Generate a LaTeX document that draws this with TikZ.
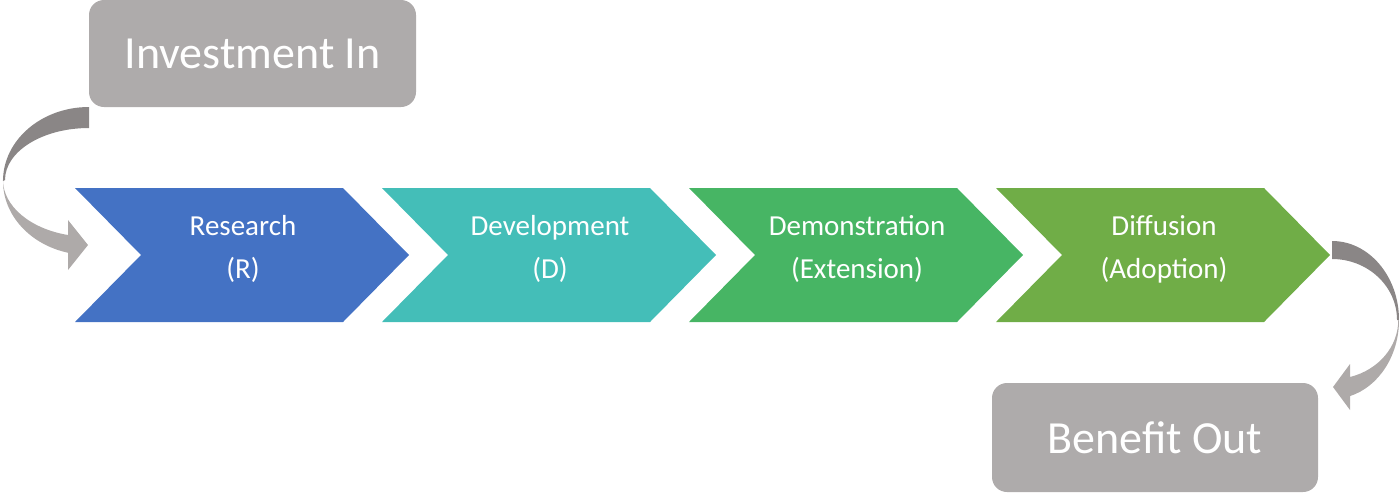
\documentclass[tikz,border=0pt]{standalone}
\usepackage{fontspec}
\setmainfont{Carlito}
\definecolor{cR}{HTML}{4472C4}
\definecolor{cD}{HTML}{44BEB8}
\definecolor{cE}{HTML}{47B564}
\definecolor{cA}{HTML}{70AD47}
\definecolor{boxgray}{HTML}{AEABAB}
\definecolor{arrdark}{HTML}{8A8686}
\definecolor{arrlight}{HTML}{AEAAA9}
\tikzset{
  chevlabel/.style={text=white, align=center, font=\fontsize{29}{43}\selectfont, inner sep=0pt},
  graybox/.style={fill=boxgray, rounded corners=15pt, text=white, font=\fontsize{46}{50}\selectfont, inner sep=0pt},
  backband/.style={fill=arrdark},
  frontband/.style={fill=arrlight},
}
\begin{document}
\begin{tikzpicture}[x=1pt,y=-1pt]
\useasboundingbox (0,0) rectangle (1399,493);
% chevrons
\foreach \n/\x/\col/\txt in {r/75/cR/{Research\\(R)}, d/382/cD/{Development\\(D)}, e/689/cE/{Demonstration\\(Extension)}, a/996/cA/{Diffusion\\(Adoption)}}{
  \fill[\col] (\x,188) -- (\x+268,188) -- (\x+334,255) -- (\x+268,322) -- (\x,322) -- (\x+66,255) -- cycle;
  \node[chevlabel] (\n) at (\x+168,249) {\txt};
}
% boxes
\node[graybox, minimum width=327pt, minimum height=107pt] (inv) at (252.5,53.5) {Investment In};
\node[graybox, minimum width=326pt, minimum height=109pt] (ben) at (1155,437.5) {Benefit Out};
% left curved arrow
\fill[backband] (89,107) arc[start angle=-90, end angle=-180, x radius=86, y radius=74]
  -- (5,180) arc[start angle=180, end angle=270, x radius=84, y radius=52] -- cycle;
\fill[frontband] (3,181) arc[start angle=180, end angle=104.1, x radius=86, y radius=74]
  -- (68,253) -- (68,270) -- (88,245) -- (68,220) -- (68,235)
  arc[start angle=104.1, end angle=180, x radius=86, y radius=57] -- cycle;
% right curved arrow
\fill[backband] (1332,241) arc[start angle=-90, end angle=0, x radius=67, y radius=79]
  -- (1397,320) arc[start angle=0, end angle=-90, x radius=65, y radius=61] -- cycle;
\fill[frontband] (1399,320) arc[start angle=0, end angle=74.4, x radius=67, y radius=79]
  -- (1350,397) -- (1350,410) -- (1333,387) -- (1350,364) -- (1350,377)
  arc[start angle=74.4, end angle=0, x radius=66, y radius=59] -- cycle;
\end{tikzpicture}
\end{document}
